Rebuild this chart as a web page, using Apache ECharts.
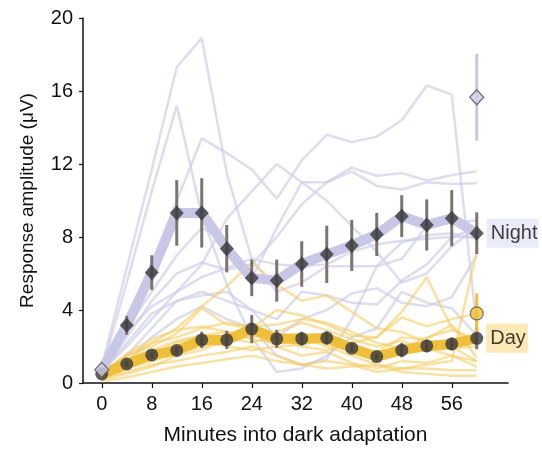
<!DOCTYPE html>
<html>
<head>
<meta charset="utf-8">
<script src="https://cdn.jsdelivr.net/npm/echarts@6/dist/echarts.min.js"></script>
<style>html,body{margin:0;padding:0;background:#fff;}#c{width:542px;height:451px;}</style>
</head>
<body>
<div id="c"></div>
<script>
// ---- data ----
const minutes = [0, 4, 8, 12, 16, 20, 24, 28, 32, 36, 40, 44, 48, 52, 56, 60];
const xTicks = [0, 8, 16, 24, 32, 40, 48, 56];

const nightMean = [0.72, 3.16, 6.05, 9.32, 9.32, 7.36, 5.76, 5.61, 6.52, 7.05, 7.54, 8.14, 9.14, 8.66, 9.03, 8.21];
const nightErr  = [0.0, 0.52, 0.95, 1.8, 1.9, 1.3, 1.0, 1.15, 1.25, 1.57, 1.4, 1.18, 1.15, 1.4, 1.54, 1.14];
const dayMean   = [0.5, 1.04, 1.54, 1.78, 2.36, 2.36, 2.96, 2.42, 2.43, 2.47, 1.91, 1.45, 1.8, 2.03, 2.14, 2.45];
const dayErr    = [0.0, 0.15, 0.2, 0.2, 0.45, 0.5, 0.77, 0.5, 0.38, 0.36, 0.2, 0.2, 0.39, 0.34, 0.35, 0.6];

const nightExtra = { minute: 60, mean: 15.66, err: 2.38 };
const dayExtra   = { minute: 60, mean: 3.81, err: 1.1 };

const nightLines = [
  [0.9, 6.3, 11.7, 17.3, 18.9, 11.5, 6.8, 5.0, 5.5, 6.4, 6.4, 6.4, 7.7, 8.1, 8.2, 7.9],
  [0.7, 5.5, 10.5, 15.2, 9.2, 5.4, 2.5, 0.6, 0.8, 1.5, 2.5, 3.0, 5.0, 4.4, 4.1, 2.6],
  [0.6, 3.5, 6.5, 10.0, 13.4, 12.6, 11.7, 10.1, 12.2, 13.6, 13.2, 13.5, 14.4, 16.3, 15.8, 3.0],
  [0.5, 3.0, 5.0, 7.0, 8.5, 7.8, 5.7, 8.5, 11.0, 11.0, 11.8, 11.35, 11.5, 11.1, 11.4, 11.6],
  [0.6, 2.5, 4.5, 6.0, 6.6, 6.2, 6.5, 8.0, 9.8, 11.0, 11.6, 10.8, 10.6, 11.0, 10.9, 10.95],
  [0.7, 2.0, 3.5, 5.0, 6.5, 9.0, 10.5, 12.0, 11.0, 10.0, 8.6, 7.2, 5.5, 6.0, 7.5, 8.5],
  [0.5, 1.5, 3.0, 4.5, 4.8, 5.0, 4.0, 3.5, 5.0, 4.8, 4.4, 4.3, 5.6, 6.5, 8.0, 8.5],
  [0.4, 1.2, 2.5, 3.5, 4.2, 3.5, 3.0, 1.5, 1.0, 1.3, 3.5, 6.4, 6.8, 8.6, 8.8, 8.9],
  [0.8, 2.8, 4.2, 5.0, 5.8, 6.3, 6.8, 6.5, 6.4, 6.5, 7.2, 7.6, 7.8, 7.9, 8.0, 8.0],
  [0.6, 2.2, 3.8, 4.5, 5.0, 4.5, 4.0, 2.5, 3.5, 4.0, 4.9, 5.2, 4.4, 4.2, 4.7, 7.0]
];

const dayLines = [
  [0.3, 1.2, 2.2, 3.0, 4.2, 5.3, 6.6, 5.4, 4.5, 4.8, 3.9, 3.0, 2.8, 2.2, 2.0, 1.2],
  [0.5, 1.5, 2.0, 2.7, 4.1, 3.2, 3.0, 4.0, 3.7, 3.2, 2.6, 2.5, 3.6, 3.1, 3.5, 3.8],
  [0.4, 1.0, 1.6, 2.2, 2.6, 2.8, 2.4, 2.2, 2.5, 2.0, 1.5, 1.0, 0.8, 1.0, 1.2, 7.2],
  [0.3, 0.8, 1.2, 1.6, 2.0, 2.2, 2.6, 2.5, 2.0, 1.8, 2.2, 2.5, 3.9, 5.8, 3.0, 2.2],
  [0.6, 1.5, 2.2, 2.5, 3.0, 3.3, 3.1, 3.2, 3.5, 3.3, 2.8, 2.2, 1.9, 2.5, 2.9, 2.4],
  [0.2, 0.8, 1.5, 2.0, 2.3, 2.0, 1.8, 2.0, 2.1, 2.4, 2.0, 1.5, 1.6, 1.9, 1.5, 1.2],
  [0.3, 0.6, 1.0, 1.2, 1.5, 1.7, 2.0, 1.5, 1.0, 1.2, 1.0, 0.6, 0.8, 0.8, 0.7, 0.7],
  [0.1, 0.3, 0.6, 0.9, 1.1, 1.3, 1.5, 1.2, 1.0, 0.8, 0.9, 1.0, 0.6, 0.5, 0.4, 0.4],
  [0.5, 1.3, 1.8, 2.3, 2.6, 2.5, 2.2, 2.6, 2.7, 2.1, 1.8, 1.7, 2.5, 2.4, 3.2, 1.4],
  [0.4, 1.6, 2.4, 2.9, 3.1, 2.8, 2.5, 2.8, 3.3, 2.9, 2.4, 2.0, 2.3, 1.8, 1.9, 2.0],
  [0.2, 0.5, 0.9, 1.5, 1.8, 2.4, 2.8, 2.0, 1.5, 1.7, 1.1, 0.8, 1.2, 1.1, 1.5, 0.9]
];

// ---- styles ----
const FONT = 'Liberation Sans, Arial, sans-serif';
const NIGHT_THIN = 'rgba(205,203,232,0.65)';
const DAY_THIN = 'rgba(245,205,100,0.6)';
const NIGHT_MEAN = '#c9c7e6';
const DAY_MEAN = '#f0bf3a';
const DARK = '#38383a';
const ERR = '#7d736f';

const pairs = (vals) => minutes.map((m, i) => [m, vals[i]]);

const series = [];
nightLines.forEach(v => series.push({
  type: 'line', data: pairs(v), symbol: 'none', silent: true, z: 1,
  lineStyle: { color: NIGHT_THIN, width: 2.5 }
}));
dayLines.forEach(v => series.push({
  type: 'line', data: pairs(v), symbol: 'none', silent: true, z: 1,
  lineStyle: { color: DAY_THIN, width: 2.5 }
}));

series.push({ type: 'line', data: pairs(dayMean), symbol: 'none', z: 3,
  lineStyle: { color: DAY_MEAN, width: 10 } });
series.push({ type: 'line', data: pairs(nightMean), symbol: 'none', z: 3,
  lineStyle: { color: NIGHT_MEAN, width: 10 } });

function errSeries(data, color, width, z) {
  return {
    type: 'custom', z: z, silent: true,
    data: data,
    renderItem: function (params, api) {
      const x = api.value(0), m = api.value(1), e = api.value(2);
      const p1 = api.coord([x, m - e]);
      const p2 = api.coord([x, m + e]);
      return { type: 'line', shape: { x1: p1[0], y1: p1[1], x2: p2[0], y2: p2[1] },
        style: { stroke: color, lineWidth: width } };
    }
  };
}
series.push(errSeries(minutes.map((m, i) => [m, nightMean[i], nightErr[i]]).slice(1), ERR, 3, 4));
series.push(errSeries(minutes.map((m, i) => [m, dayMean[i], dayErr[i]]).slice(1), ERR, 3, 4));
series.push(errSeries([[nightExtra.minute, nightExtra.mean, nightExtra.err]], NIGHT_MEAN, 3, 4));
series.push(errSeries([[dayExtra.minute, dayExtra.mean, dayExtra.err]], DAY_MEAN, 3, 4));

// day markers
series.push({
  type: 'scatter', z: 5, symbol: 'circle', symbolSize: 13,
  itemStyle: { color: DARK },
  data: pairs(dayMean).map((p, i) => i === dayMean.length - 1 ? {
    value: p,
    label: { show: true, position: 'right', distance: 3, formatter: 'Day',
      fontFamily: FONT, fontSize: 20, color: '#111', backgroundColor: '#fde4a4', padding: [5, 2, 4, 4] }
  } : p)
});
series.push({
  type: 'scatter', z: 5, symbol: 'circle', symbolSize: 13,
  itemStyle: { color: DAY_MEAN, borderColor: '#555', borderWidth: 1.2 },
  data: [[dayExtra.minute, dayExtra.mean]]
});
// night markers
series.push({
  type: 'scatter', z: 6, symbol: 'diamond', symbolSize: [14, 15],
  itemStyle: { color: DARK },
  data: pairs(nightMean).map((p, i) => {
    if (i === 0) return { value: p, itemStyle: { color: '#cfcdea', borderColor: '#555', borderWidth: 1.3 } };
    if (i === nightMean.length - 1) return {
      value: p,
      label: { show: true, position: 'right', distance: 3, formatter: 'Night',
        fontFamily: FONT, fontSize: 20, color: '#111', backgroundColor: '#e5e5f7', padding: [5, 1, 4, 4] }
    };
    return p;
  })
});
series.push({
  type: 'scatter', z: 6, symbol: 'diamond', symbolSize: [14, 15],
  itemStyle: { color: '#cfcdea', borderColor: '#555', borderWidth: 1.3 },
  data: [[nightExtra.minute, nightExtra.mean]]
});

const chart = echarts.init(document.getElementById('c'), null, { renderer: 'canvas' });
chart.setOption({
  animation: false,
  textStyle: { fontFamily: FONT },
  grid: { left: 83, right: 34, top: 18, bottom: 66, containLabel: false },
  xAxis: {
    type: 'value', min: -3, max: 65,
    name: 'Minutes into dark adaptation', nameLocation: 'middle', nameGap: 42,
    nameTextStyle: { fontFamily: FONT, fontSize: 21, color: '#111' },
    axisLine: { onZero: false, lineStyle: { color: '#111', width: 1.5 } },
    axisTick: { show: true, length: 5, customValues: xTicks, lineStyle: { color: '#111', width: 1.2 } },
    axisLabel: { customValues: xTicks, fontFamily: FONT, fontSize: 20, color: '#111', margin: 11 },
    splitLine: { show: false }
  },
  yAxis: {
    type: 'value', min: 0, max: 20, interval: 4,
    name: 'Response amplitude (μV)', nameLocation: 'middle', nameGap: 46,
    nameTextStyle: { fontFamily: FONT, fontSize: 19, color: '#111' },
    axisLine: { show: true, onZero: false, lineStyle: { color: '#111', width: 1.5 } },
    axisTick: { show: true, length: 4, lineStyle: { color: '#111', width: 1.2 } },
    axisLabel: { fontFamily: FONT, fontSize: 20, color: '#111', margin: 10 },
    splitLine: { show: false }
  },
  series: series
});
</script>
</body>
</html>
